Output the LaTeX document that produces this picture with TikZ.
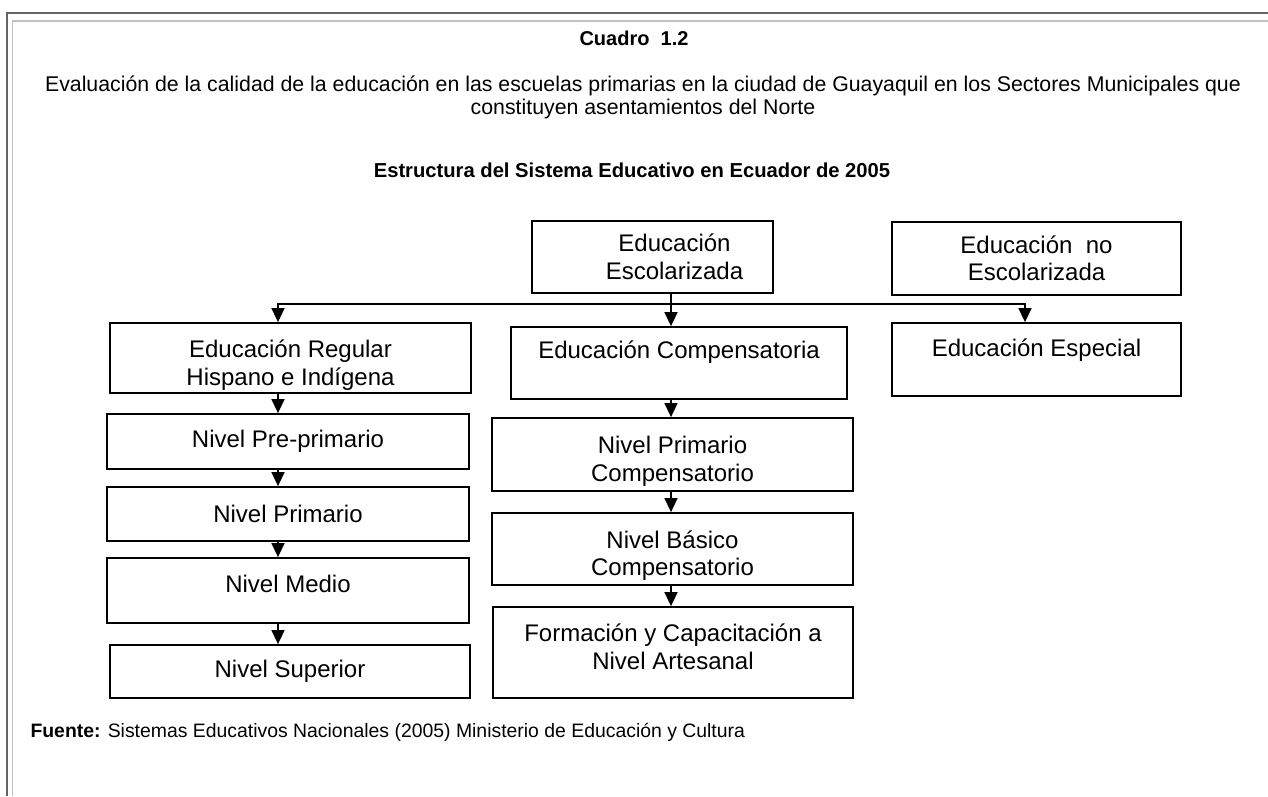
\documentclass[tikz,border=0pt]{standalone}
\usepackage{fontspec}
\setmainfont{Liberation Sans}
\usetikzlibrary{arrows.meta}
\definecolor{marcoA}{HTML}{646464}
\definecolor{marcoB}{HTML}{C0C0C0}
\newcommand{\bajar}[1]{\rule[-#1]{0pt}{0pt}}
\newcommand{\alto}[1]{\rule{0pt}{#1}}

\begin{document}
\begin{tikzpicture}[x=1pt,y=-1pt,
    caja/.style={draw,line width=1.8pt,align=center,inner sep=0pt,font=\fontsize{24}{27.5}\selectfont},
    flecha/.style={line width=1.6pt,-{Triangle[width=13pt,length=14pt]}},
    titulo/.style={align=center,font=\fontsize{21.3}{23}\selectfont},
    negrita/.style={align=center,font=\fontsize{20}{23}\selectfont\bfseries}]
      \useasboundingbox (0,0) rectangle (1268,796);
      \draw[marcoA,line width=1.5pt] (1268,13) to (7,13) to (7,796);
      \draw[marcoB,line width=1.5pt] (1268,21) to (12.5,21) to (12.5,796);
      \node[negrita] (cuadro) at (634,38) {Cuadro~~1.2};
      \node[titulo] (tema) at (643,97) {Evaluación de la calidad de la educación en las escuelas primarias en la ciudad de Guayaquil en los Sectores Municipales que\\constituyen asentamientos del Norte};
      \node[negrita,font=\fontsize{20.2}{24}\selectfont\bfseries] (estructura) at (632,170) {Estructura del Sistema Educativo en Ecuador de 2005};
      \node[caja,minimum width=241pt,minimum height=72pt] (esc) at (652.5,257) {\hspace*{44pt}Educación\\\hspace*{44pt}Escolarizada};
      \node[caja,minimum width=289pt,minimum height=73pt] (noesc) at (1036.5,258.5) {Educación~~no\\Escolarizada};
      \node[caja,minimum width=361pt,minimum height=70pt] (reg) at (290.5,358) {\alto{32pt}Educación Regular\\Hispano e Indígena};
      \node[caja,minimum width=336pt,minimum height=72pt] (comp) at (679,363) {Educación Compensatoria\bajar{26pt}};
      \node[caja,minimum width=289pt,minimum height=73pt] (esp) at (1036.5,359.5) {Educación Especial\bajar{23pt}};
      \node[caja,minimum width=362pt,minimum height=55pt] (prepri) at (288,441.5) {Nivel Pre-primario};
      \node[caja,minimum width=362pt,minimum height=54pt] (prim) at (288,514) {Nivel Primario};
      \node[caja,minimum width=362pt,minimum height=65pt] (medio) at (288,590.5) {Nivel Medio\bajar{14pt}};
      \node[caja,minimum width=360pt,minimum height=53pt] (sup) at (290,671.5) {Nivel Superior};
      \node[caja,minimum width=361pt,minimum height=73pt] (pcomp) at (672.5,454.5) {\alto{31pt}Nivel Primario\\Compensatorio};
      \node[caja,minimum width=361pt,minimum height=72pt] (bcomp) at (672.5,549) {\alto{31pt}Nivel Básico\\Compensatorio};
      \node[caja,minimum width=360pt,minimum height=91pt] (form) at (673,652.5) {Formación y Capacitación a\\Nivel Artesanal\bajar{12pt}};
      \node[titulo,anchor=west,font=\fontsize{19.4}{23}\selectfont] (fuente) at (27,732) {\textbf{Fuente:} Sistemas Educativos Nacionales (2005) Ministerio de Educación y Cultura};
      \coordinate (ejeI) at (278,0);
      \coordinate (ejeM) at (671,0);
      \coordinate (ejeD) at (1025,0);
      \coordinate (barra) at (671,304);
      \draw[flecha] (esc.south -| ejeM) to (comp.north -| ejeM);
      \draw[flecha] (barra) -| (reg.north -| ejeI);
      \draw[flecha] (barra) -| (esp.north -| ejeD);
      \draw[flecha] (reg.south -| ejeI) to (prepri.north -| ejeI);
      \draw[flecha] (prepri.south -| ejeI) to (prim.north -| ejeI);
      \draw[flecha] (prim.south -| ejeI) to (medio.north -| ejeI);
      \draw[flecha] (medio.south -| ejeI) to (sup.north -| ejeI);
      \draw[flecha] (comp.south -| ejeM) to (pcomp.north -| ejeM);
      \draw[flecha] (pcomp.south -| ejeM) to (bcomp.north -| ejeM);
      \draw[flecha] (bcomp.south -| ejeM) to (form.north -| ejeM);
    \end{tikzpicture}
\end{document}
